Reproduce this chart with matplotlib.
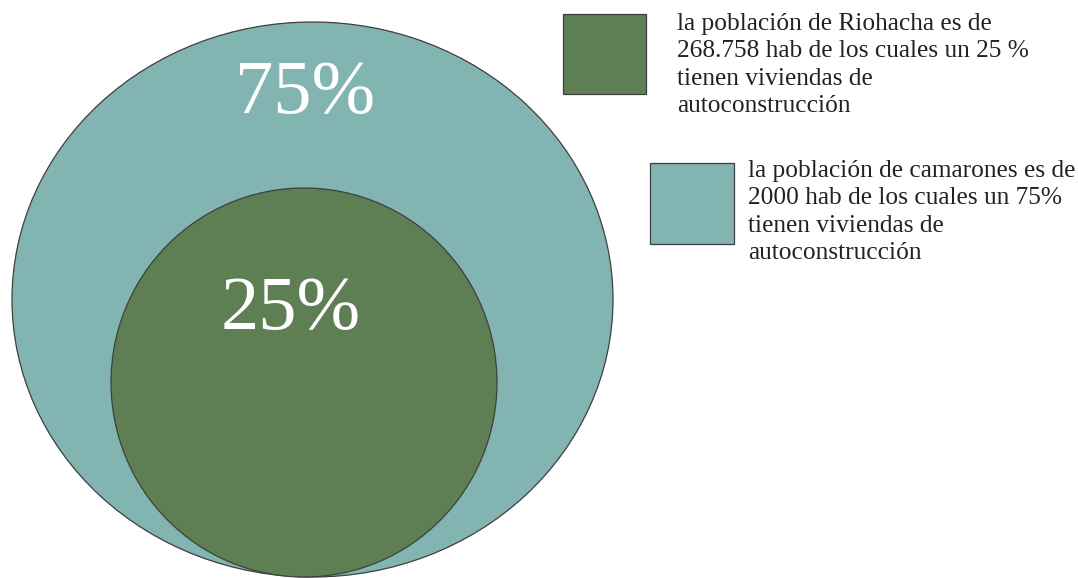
import matplotlib
matplotlib.use("Agg")
import matplotlib.pyplot as plt
from matplotlib.patches import Ellipse, Rectangle

# ---- data ----
groups = ["Camarones", "Riohacha"]
percentages = [75, 25]
legend_texts = [
    "la población de Riohacha es de\n268.758 hab de los cuales un 25 %\ntienen viviendas de\nautoconstrucción",
    "la población de camarones es de\n2000 hab de los cuales un 75%\ntienen viviendas de\nautoconstrucción",
]

# ---- styles ----
col_outer = "#82B4B1"
col_inner = "#5E7E54"
edge = "#3f3f3f"
serif = ["Liberation Serif", "DejaVu Serif"]

W, H = 1078, 578
fig = plt.figure(figsize=(W / 100, H / 100), dpi=100)
ax = fig.add_axes([0, 0, 1, 1])
ax.set_xlim(0, W)
ax.set_ylim(H, 0)
ax.axis("off")

# layout (pixel-space geometry)
outer = dict(cx=312.5, cy=299.5, w=601, h=555)
inner = dict(cx=304, cy=382.5, w=386, h=389)

ax.add_patch(Ellipse((outer["cx"], outer["cy"]), outer["w"], outer["h"],
                     facecolor=col_outer, edgecolor=edge, lw=0.9, zorder=1))
ax.add_patch(Ellipse((inner["cx"], inner["cy"]), inner["w"], inner["h"],
                     facecolor=col_inner, edgecolor=edge, lw=0.9, zorder=2))

ax.text(305, 94, f"{percentages[0]}%", color="white", fontsize=55,
        family=serif, ha="center", va="center", zorder=3)
ax.text(291, 311, f"{percentages[1]}%", color="white", fontsize=55,
        family=serif, ha="center", va="center", zorder=3)

# legend
boxes = [(563, 14, 83, 80, col_inner), (650, 163, 84, 81, col_outer)]
text_pos = [(677, 13), (748, 160)]
for (x, y, w, h, c), (tx, ty), t in zip(boxes, text_pos, legend_texts):
    ax.add_patch(Rectangle((x, y), w, h, facecolor=c, edgecolor=edge, lw=0.9, zorder=2))
    ax.text(tx, ty, t, fontsize=18.3, family=serif, color="#222222",
            ha="left", va="top", linespacing=1.31, zorder=3)

fig.savefig("out.png", dpi=100, facecolor="white")
